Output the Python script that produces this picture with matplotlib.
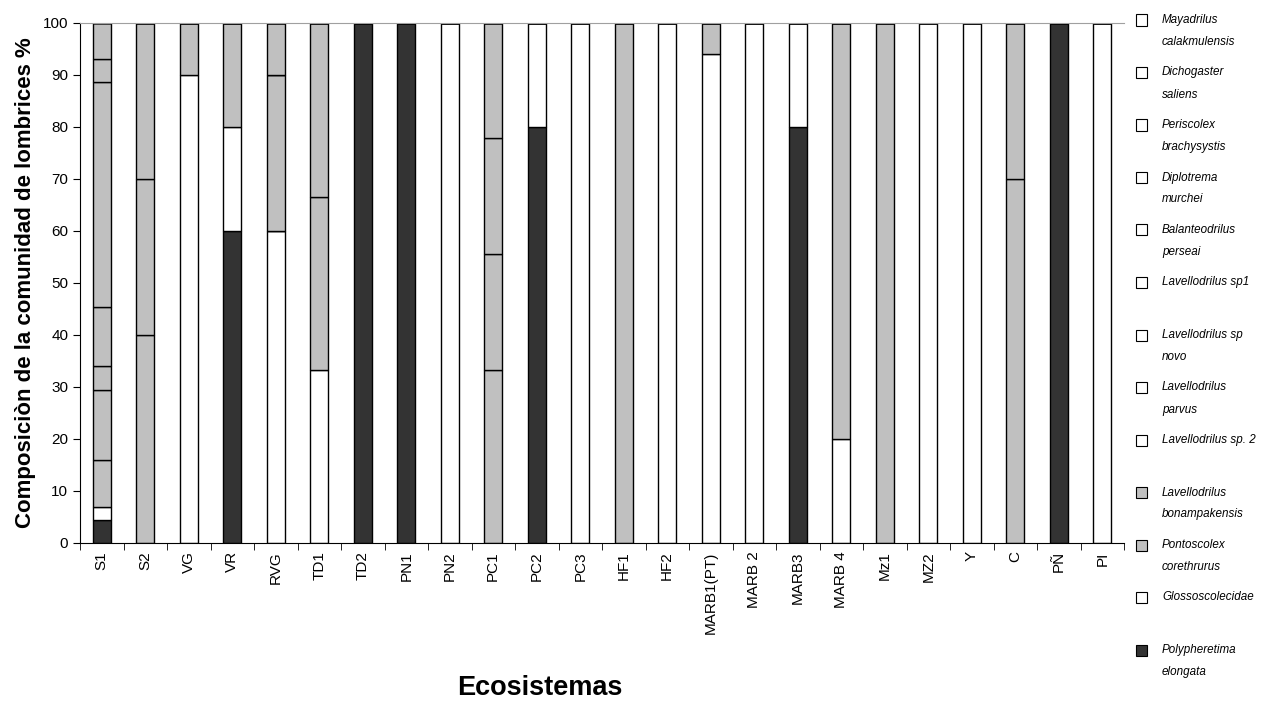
import matplotlib.pyplot as plt
from matplotlib.patches import Rectangle
import numpy as np

plt.rcParams['font.family'] = ['Liberation Sans', 'DejaVu Sans']

cats = ['S1', 'S2', 'VG', 'VR', 'RVG', 'TD1', 'TD2', 'PN1', 'PN2', 'PC1', 'PC2', 'PC3',
        'HF1', 'HF2', 'MARB1(PT)', 'MARB 2', 'MARB3', 'MARB 4', 'Mz1', 'MZ2', 'Y', 'C',
        'PÑ', 'PI']

# series from the bottom of the stack upwards (values in %)
polypheretima = [4.5, 0, 0, 60, 0, 0, 100, 100, 0, 0, 80, 0, 0, 0, 0, 0, 80, 0, 0, 0, 0, 0, 100, 0]
glossoscolecidae = [2.5, 0, 90, 20, 60, 33.3, 0, 0, 100, 0, 20, 100, 0, 100, 94, 100, 20, 20, 0, 100, 100, 0, 0, 100]
pontoscolex = [9, 40, 10, 20, 0, 33.3, 0, 0, 0, 33.3, 0, 0, 100, 0, 6, 0, 0, 80, 100, 0, 0, 70, 0, 0]
bonampakensis = [13.5, 30, 0, 0, 30, 33.4, 0, 0, 0, 22.3, 0, 0, 0, 0, 0, 0, 0, 0, 0, 0, 0, 30, 0, 0]
lav_sp2 = [4.5, 30, 0, 0, 0, 0, 0, 0, 0, 22.2, 0, 0, 0, 0, 0, 0, 0, 0, 0, 0, 0, 0, 0, 0]
lav_parvus = [11.4, 0, 0, 0, 10, 0, 0, 0, 0, 22.2, 0, 0, 0, 0, 0, 0, 0, 0, 0, 0, 0, 0, 0, 0]
lav_novo = [43.2] + [0] * 23
lav_sp1 = [4.5] + [0] * 23
balanteodrilus = [6.9] + [0] * 23
diplotrema = [0] * 24
periscolex = [0] * 24
dichogaster = [0] * 24
mayadrilus = [0] * 24

series = [polypheretima, glossoscolecidae, pontoscolex, bonampakensis, lav_sp2, lav_parvus,
          lav_novo, lav_sp1, balanteodrilus, diplotrema, periscolex, dichogaster, mayadrilus]
names = ['Polypheretima\nelongata', 'Glossoscolecidae', 'Pontoscolex\ncorethrurus',
         'Lavellodrilus\nbonampakensis', 'Lavellodrilus sp. 2', 'Lavellodrilus\nparvus',
         'Lavellodrilus sp\nnovo', 'Lavellodrilus sp1', 'Balanteodrilus\nperseai',
         'Diplotrema\nmurchei', 'Periscolex\nbrachysystis', 'Dichogaster\nsaliens',
         'Mayadrilus\ncalakmulensis']

DARK, GREY, WHITE = '#333333', '#c0c0c0', '#ffffff'
colors = [DARK, WHITE, GREY, GREY] + [WHITE] * 9
# cells drawn grey in the original although their series is white
grey_cells = {(4, 0), (5, 0), (6, 0), (7, 0), (8, 0), (4, 1), (5, 4), (4, 9), (5, 9)}

W, H = 1261, 702
fig = plt.figure(figsize=(W / 100, H / 100), dpi=100)
ax = fig.add_axes([80 / W, 1 - 543 / H, (1124 - 80) / W, (543 - 23) / H])

x = np.arange(len(cats))
bottom = np.zeros(len(cats))
for i, vals in enumerate(series):
    vals = np.array(vals, dtype=float)
    fc = [GREY if (i, j) in grey_cells else colors[i] for j in range(len(cats))]
    ax.bar(x, vals, 0.42, bottom=bottom, color=fc, edgecolor='black', linewidth=1)
    bottom += vals

ax.set_xlim(-0.5, len(cats) - 0.5)
ax.set_ylim(0, 100)
ax.set_yticks(np.arange(0, 101, 10))
ax.set_xticks(x)
ax.set_xticklabels(cats, rotation=90, fontsize=11)
ax.set_xticks(np.arange(-0.5, len(cats), 1), minor=True)
ax.tick_params(axis='x', which='major', length=0, pad=6)
ax.tick_params(axis='x', which='minor', length=5, direction='out')
ax.tick_params(axis='y', length=5, direction='out', labelsize=11)
ax.spines['right'].set_visible(False)
ax.spines['top'].set_color('#a0a0a0')
ax.set_ylabel('Composiciòn de la comunidad de lombrices %', fontsize=16, fontweight='bold', labelpad=5)
fig.text(540 / W, 1 - 688 / H, 'Ecosistemas', fontsize=19.5, fontweight='bold', ha='center', va='center')

# legend, drawn by hand (top entry = last series)
for k, i in enumerate(range(len(series) - 1, -1, -1)):
    yc = 20 + k * 52.5
    fig.patches.append(Rectangle((1136 / W, 1 - (yc + 5.5) / H), 11 / W, 11 / H,
                                 transform=fig.transFigure, facecolor=colors[i],
                                 edgecolor='black', linewidth=0.8))
    for li, line in enumerate(names[i].split('\n')):
        fig.text(1162 / W, 1 - (yc + li * 22) / H, line, fontsize=8.4, style='italic',
                 va='center', ha='left')

fig.savefig('out.png', dpi=100)
